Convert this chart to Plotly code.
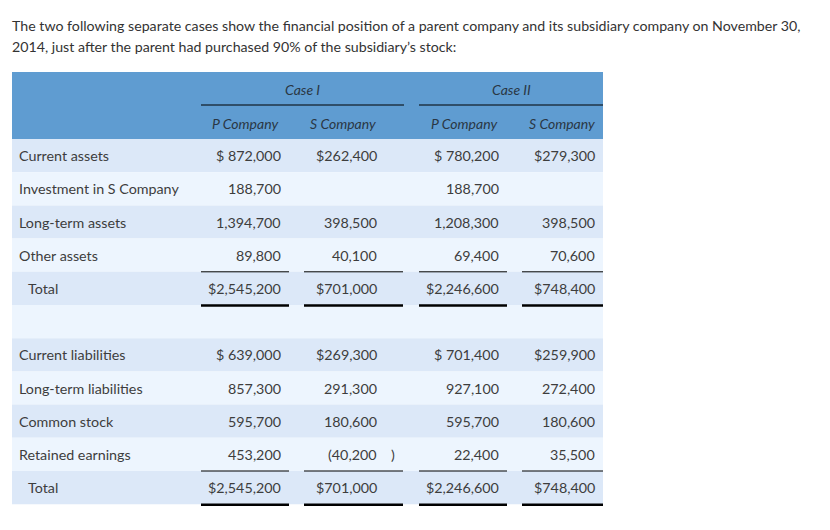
import plotly.graph_objects as go

# ---- data ----
title_lines = [
    "The two following separate cases show the financial position of a parent company and its subsidiary company on November 30,",
    "2014, just after the parent had purchased 90% of the subsidiary\u2019s stock:",
]
case_labels = ["Case I", "Case II"]
col_headers = ["P Company", "S Company", "P Company", "S Company"]
row_labels = ["Current assets", "Investment in S Company", "Long-term assets", "Other assets", "Total",
              "", "Current liabilities", "Long-term liabilities", "Common stock", "Retained earnings", "Total"]
case1_p = ["$ 872,000", "188,700", "1,394,700", "89,800", "$2,545,200",
           "", "$ 639,000", "857,300", "595,700", "453,200", "$2,545,200"]
case1_s = ["$262,400", "", "398,500", "40,100", "$701,000",
           "", "$269,300", "291,300", "180,600", "(40,200 )", "$701,000"]
case2_p = ["$ 780,200", "188,700", "1,208,300", "69,400", "$2,246,600",
           "", "$ 701,400", "927,100", "595,700", "22,400", "$2,246,600"]
case2_s = ["$279,300", "", "398,500", "70,600", "$748,400",
           "", "$259,900", "272,400", "180,600", "35,500", "$748,400"]
total_rows = [4, 10]

# ---- layout constants ----
W, H = 830, 530
OFF = 8  # page body margin
PAD = 2  # annotation inner padding
FONT = "Lato, 'Noto Sans', sans-serif"
TXT = "#3d3d3d"
HDR_TXT = "#2a3744"
BLUE = "#5f9cd1"
DARK = "#dce8f8"
LIGHT = "#edf5fe"
tab_l, tab_r = 12, 603
hdr_top, hdr_bot = 72, 139
row_h = 33.2
col_right = [281, 377, 499, 595]
col_span = [(201, 289), (304, 403), (419, 507), (522, 603)]
case_span = [(201, 404), (419, 603)]
case_cx = [302, 511]
head_cx = [245, 343, 464, 562]
FS = 14.3

fig = go.Figure()
shapes = []
ann = []

# title
for i, t in enumerate(title_lines):
    ann.append(dict(x=12 - PAD, y=25 + i * 21, text=t, xanchor="left", yanchor="middle", showarrow=False,
                    font=dict(family=FONT, size=14.2, color="#333333")))

# header
shapes.append(dict(type="rect", x0=tab_l, x1=tab_r, y0=hdr_top, y1=hdr_bot, fillcolor=BLUE, line=dict(width=0), layer="below"))
for k, lab in enumerate(case_labels):
    ann.append(dict(x=case_cx[k], y=89, text="<i>" + lab + "</i>", xanchor="center", yanchor="middle",
                    showarrow=False, font=dict(family=FONT, size=14, color=HDR_TXT)))
    shapes.append(dict(type="line", x0=case_span[k][0], x1=case_span[k][1], y0=105, y1=105,
                       line=dict(color="black", width=1)))
for k, lab in enumerate(col_headers):
    ann.append(dict(x=head_cx[k], y=123, text="<i>" + lab + "</i>", xanchor="center", yanchor="middle",
                    showarrow=False, font=dict(family=FONT, size=14, color=HDR_TXT)))

# body rows
cols = [case1_p, case1_s, case2_p, case2_s]
for i, lab in enumerate(row_labels):
    y0 = hdr_bot + i * row_h
    y1 = y0 + row_h
    yc = (y0 + y1) / 2
    shapes.append(dict(type="rect", x0=tab_l, x1=tab_r, y0=y0, y1=y1,
                       fillcolor=DARK if i % 2 == 0 else LIGHT, line=dict(width=0), layer="below"))
    if lab:
        ann.append(dict(x=(28 if i in total_rows else 19) - PAD, y=yc, text=lab, xanchor="left", yanchor="middle",
                        showarrow=False, font=dict(family=FONT, size=FS, color=TXT)))
    for c, vals in enumerate(cols):
        v = vals[i]
        if not v:
            continue
        xr = col_right[c] + PAD
        if v.endswith(")"):
            main = v[:-1].rstrip()
            ann.append(dict(x=xr, y=yc, text=main, xanchor="right", yanchor="middle",
                            showarrow=False, font=dict(family=FONT, size=FS, color=TXT)))
            ann.append(dict(x=xr + 18, y=yc, text=")", xanchor="right", yanchor="middle",
                            showarrow=False, font=dict(family=FONT, size=FS, color=TXT)))
        else:
            ann.append(dict(x=xr, y=yc, text=v, xanchor="right", yanchor="middle",
                            showarrow=False, font=dict(family=FONT, size=FS, color=TXT)))
    if i in total_rows:
        for (a, b) in col_span:
            shapes.append(dict(type="line", x0=a, x1=b, y0=y0, y1=y0, line=dict(color="black", width=1)))
            shapes.append(dict(type="line", x0=a, x1=b, y0=y1 + 0.5, y1=y1 + 0.5, line=dict(color="black", width=2.5)))

fig.update_layout(
    width=W, height=H, margin=dict(l=0, r=0, t=0, b=0),
    paper_bgcolor="white", plot_bgcolor="white",
    xaxis=dict(range=[OFF, W + OFF], visible=False, fixedrange=True),
    yaxis=dict(range=[H + OFF, OFF], visible=False, fixedrange=True),
    shapes=shapes, annotations=ann, showlegend=False,
)
fig.write_html("out.html")
